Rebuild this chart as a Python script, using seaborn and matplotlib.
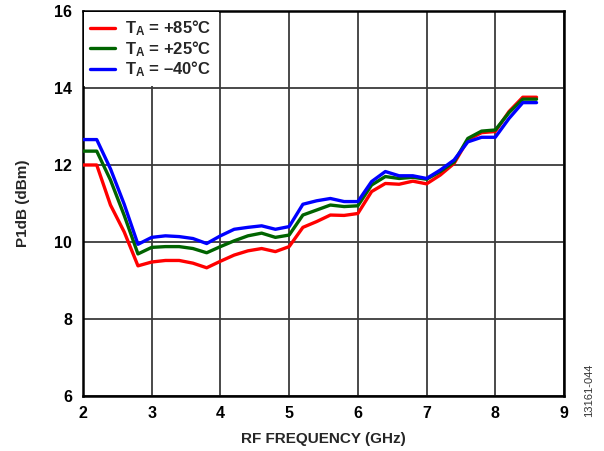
import matplotlib
matplotlib.use("Agg")
import matplotlib.pyplot as plt
import seaborn as sns
import pandas as pd

freq = [2.0, 2.2, 2.4, 2.6, 2.8, 3.0, 3.2, 3.4, 3.6, 3.8, 4.0, 4.2, 4.4, 4.6, 4.8,
        5.0, 5.2, 5.4, 5.6, 5.8, 6.0, 6.2, 6.4, 6.6, 6.8, 7.0, 7.2, 7.4, 7.6, 7.8,
        8.0, 8.2, 8.4, 8.6]
p85 = [12.0, 12.0, 10.96, 10.26, 9.38, 9.48, 9.52, 9.52, 9.45, 9.33, 9.5, 9.66, 9.77, 9.83, 9.75,
       9.88, 10.38, 10.53, 10.7, 10.69, 10.74, 11.31, 11.52, 11.5, 11.58, 11.51, 11.74, 12.04, 12.65, 12.84,
       12.87, 13.39, 13.76, 13.76]
p25 = [12.36, 12.36, 11.61, 10.69, 9.69, 9.86, 9.88, 9.88, 9.83, 9.72, 9.88, 10.03, 10.16, 10.23, 10.12,
       10.18, 10.7, 10.83, 10.96, 10.92, 10.94, 11.48, 11.7, 11.65, 11.68, 11.63, 11.83, 12.08, 12.69, 12.88,
       12.91, 13.36, 13.71, 13.71]
m40 = [12.66, 12.66, 11.9, 10.98, 9.94, 10.12, 10.16, 10.14, 10.09, 9.96, 10.16, 10.33, 10.38, 10.42, 10.33,
       10.4, 10.98, 11.07, 11.13, 11.05, 11.05, 11.57, 11.83, 11.72, 11.72, 11.65, 11.87, 12.13, 12.6, 12.72,
       12.72, 13.21, 13.62, 13.62]
labels = ["T$_\\mathrm{A}$ = +85°C", "T$_\\mathrm{A}$ = +25°C", "T$_\\mathrm{A}$ = \u201340°C"]
colors = ["#FF0000", "#006400", "#0000FF"]
xticks = [2, 3, 4, 5, 6, 7, 8, 9]
yticks = [6, 8, 10, 12, 14, 16]

rows = []
for lab, vals in zip(labels, [p85, p25, m40]):
    for f, v in zip(freq, vals):
        rows.append({"freq": f, "p1db": v, "temp": lab})
df = pd.DataFrame(rows)

sns.set_theme(style="white")
plt.rcParams["font.family"] = ["Liberation Sans", "DejaVu Sans"]
plt.rcParams["font.weight"] = "bold"
plt.rcParams["mathtext.fontset"] = "custom"
plt.rcParams["mathtext.rm"] = "Liberation Sans:bold"
plt.rcParams["mathtext.it"] = "Liberation Sans:bold"
plt.rcParams["mathtext.bf"] = "Liberation Sans:bold"

fig = plt.figure(figsize=(6.04, 4.51), dpi=100)
ax = fig.add_axes([0.1374, 0.122, 0.7964, 0.8536])

sns.lineplot(data=df, x="freq", y="p1db", hue="temp", hue_order=labels,
             palette=colors, linewidth=2.4, ax=ax, zorder=3)

ax.set_xlim(2, 9)
ax.set_ylim(6, 16)
ax.set_xticks(xticks)
ax.set_yticks(yticks)
ax.set_xticklabels([str(t) for t in xticks], fontsize=11.5, fontweight="bold")
ax.set_yticklabels([str(t) for t in yticks], fontsize=11.5, fontweight="bold")
ax.tick_params(axis="x", length=0, pad=7, colors="black")
ax.tick_params(axis="y", length=0, pad=8, colors="black")
ax.grid(True, color="#3a3a3a", linewidth=1.3)
ax.set_axisbelow(True)
for s in ax.spines.values():
    s.set_color("black")
    s.set_linewidth(1.8)
ax.set_xlabel("RF FREQUENCY (GHz)", fontsize=11, fontweight="bold", labelpad=8)
ax.set_ylabel("P1dB (dBm)", fontsize=11, fontweight="bold", labelpad=17)

leg = ax.legend(loc="upper left", frameon=True, fontsize=12, handlelength=1.5,
                handletextpad=0.6, labelspacing=0.05, borderaxespad=0.05,
                borderpad=0.4)
leg.get_frame().set_edgecolor("none")
leg.get_frame().set_facecolor("white")
leg.get_frame().set_alpha(1)
leg.get_frame().set_boxstyle("square", pad=0)
for t in leg.get_texts():
    t.set_fontweight("bold")
for h in leg.get_lines():
    h.set_linewidth(2.4)

fig.text(0.976, 0.075, "13161-044", rotation=90, fontsize=8, fontweight="normal",
         ha="center", va="bottom", color="#333333")

fig.savefig("out.png", dpi=100)
